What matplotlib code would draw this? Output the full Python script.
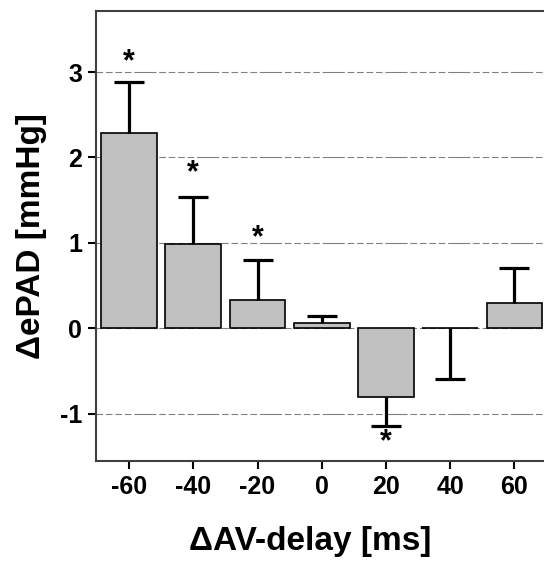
import matplotlib
matplotlib.use("Agg")
import matplotlib.pyplot as plt
import numpy as np

# data
delays = [-60, -40, -20, 0, 20, 40, 60]
means = [2.29, 0.99, 0.335, 0.066, -0.81, 0.0, 0.296]
errs = [0.59, 0.55, 0.465, 0.078, 0.33, 0.59, 0.405]
err_dir = [1, 1, 1, 1, -1, -1, 1]          # one-sided error bars
star_delays = [-60, -40, -20, 20]
star_y = [3.12, 1.81, 1.06, -1.33]

plt.rcParams["font.family"] = ["Liberation Sans", "DejaVu Sans"]
plt.rcParams["font.weight"] = "bold"
plt.rcParams["axes.unicode_minus"] = False

fig = plt.figure(figsize=(5.44, 5.61), dpi=100)
ax = fig.add_axes([96 / 544, 100 / 561, 448 / 544, 450 / 561])

x = np.array(delays, dtype=float)
m = np.array(means)
ends = m + np.array(err_dir) * np.array(errs)

# grid lines behind the bars
for yv in [-1, 0, 1, 2, 3]:
    ax.axhline(yv, color="#808080", linewidth=0.8,
               linestyle=(0, (6, 2.5, 6, 2.5, 6, 2.5, 6, 2.5, 20, 2.5)), zorder=0)

ax.bar(x, m, width=17.4, color="#c0c0c0", edgecolor="black", linewidth=1.2, zorder=2)
ax.vlines(x, m, ends, color="black", linewidth=2.3, zorder=3)
ax.plot(x, ends, linestyle="none", marker="_", markersize=21, markeredgewidth=2.3,
        color="black", zorder=3)

for sx, sy in zip(star_delays, star_y):
    ax.text(sx, sy, "*", ha="center", va="center", fontsize=22, fontweight="bold")

ax.set_xlim(-70.3, 69.2)
ax.set_ylim(-1.554, 3.715)
ax.set_xticks(delays)
ax.set_yticks([-1, 0, 1, 2, 3])
ax.tick_params(axis="both", length=6, width=1.5, color="black", labelsize=18, pad=4)
for s in ["left", "top", "bottom"]:
    ax.spines[s].set_color("#404040")
    ax.spines[s].set_linewidth(1.5)
ax.spines["right"].set_visible(False)

ax.set_xlabel("\u0394AV-delay [ms]", fontsize=24, fontweight="bold")
ax.set_ylabel("\u0394ePAD [mmHg]", fontsize=24, fontweight="bold")
ax.xaxis.set_label_coords(0.478, -0.144)
ax.yaxis.set_label_coords(-0.109, 0.5)

fig.savefig("out.png", dpi=100)
